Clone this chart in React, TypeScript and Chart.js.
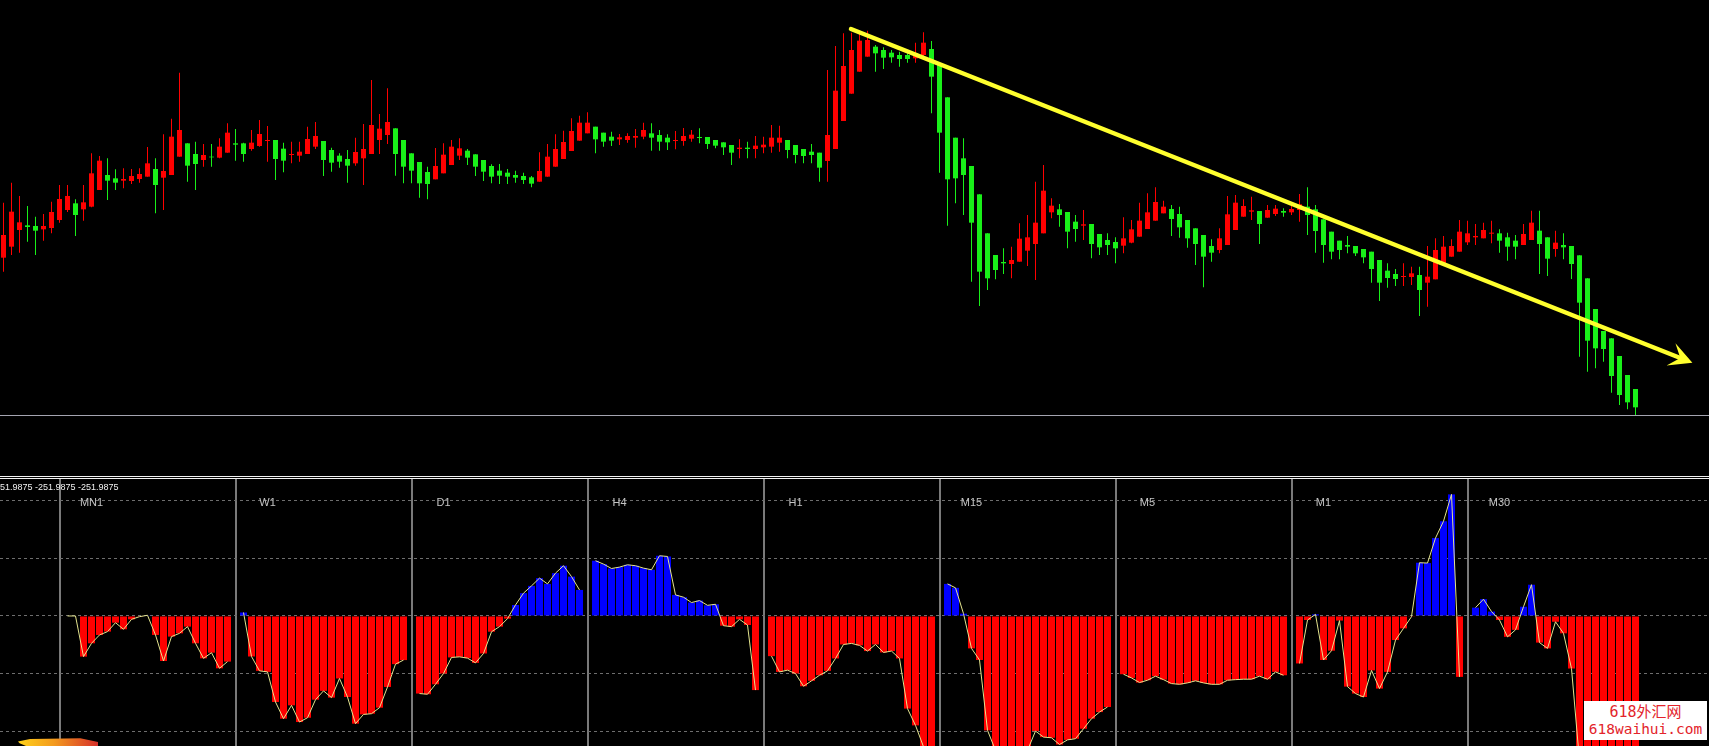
import { useEffect, useRef } from 'react';
import { Chart, registerables } from 'chart.js';

Chart.register(...registerables);

// ---------------- price panel data (points) ----------------
const OPEN = [
  472, 505, 555, 569, 567, 557, 561, 585, 615, 635,
  617, 625, 675, 720, 710, 703, 702, 708, 715, 738,
  712, 720, 775, 815, 783, 765, 775, 772, 787, 815,
  815, 798, 807, 822, 825, 799, 780, 778, 783, 805,
  822, 795, 778, 768, 755, 770, 783, 825, 840, 860,
  825, 785, 759, 729, 707, 725, 750, 778, 793, 782,
  765, 747, 733, 727, 720, 717, 713, 700, 715, 745,
  768, 792, 823, 845, 865, 847, 835, 827, 825, 832,
  835, 845, 840, 832, 822, 822, 829, 834, 834, 825,
  818, 810, 798, 802, 798, 803, 805, 817, 825, 810,
  798, 790, 787, 762, 798, 882, 964, 1030, 1075, 1105,
  1095, 1087, 1080, 1080, 1070, 1080, 1098, 1050, 953, 832,
  770, 747, 662, 545, 480, 459, 453, 460, 493, 513,
  545, 608, 617, 609, 580, 568, 573, 543, 525, 519,
  508, 517, 535, 558, 583, 605, 618, 603, 585, 560,
  540, 507, 495, 510, 555, 595, 610, 612, 592, 603,
  612, 608, 615, 625, 617, 587, 550, 523, 510, 507,
  498, 490, 465, 433, 423, 414, 414, 420, 397, 407,
  455, 475, 490, 518, 533, 530, 544, 545, 533, 523,
  510, 525, 553, 533, 498, 510, 507, 479, 410, 318,
  252, 230, 177, 120, 78,
];
const HIGH = [
  637, 697, 657, 627, 595, 603, 640, 690, 690, 647,
  690, 785, 777, 770, 737, 740, 738, 740, 804, 770,
  842, 889, 1027, 815, 820, 813, 813, 830, 875, 858,
  817, 855, 885, 867, 825, 817, 820, 820, 865, 879,
  822, 802, 785, 795, 832, 873, 1005, 903, 980, 860,
  825, 785, 759, 745, 801, 815, 825, 830, 798, 782,
  765, 752, 753, 738, 733, 727, 717, 788, 813, 842,
  853, 890, 898, 908, 865, 847, 850, 843, 845, 858,
  877, 875, 855, 842, 852, 861, 855, 860, 834, 825,
  818, 810, 827, 820, 837, 835, 870, 868, 825, 810,
  798, 813, 787, 1035, 1107, 1145, 1147, 1145, 1153, 1110,
  1103, 1095, 1090, 1085, 1117, 1148, 1122, 1050, 953, 832,
  830, 747, 662, 545, 480, 500, 505, 575, 600, 700,
  750, 650, 633, 609, 600, 615, 573, 543, 545, 533,
  593, 585, 637, 665, 683, 643, 630, 625, 585, 560,
  540, 527, 560, 657, 660, 647, 655, 612, 630, 630,
  620, 635, 663, 683, 630, 587, 550, 523, 537, 507,
  498, 490, 465, 455, 438, 455, 445, 445, 507, 530,
  537, 527, 585, 583, 573, 577, 583, 557, 547, 540,
  573, 613, 613, 533, 553, 545, 507, 479, 410, 318,
  252, 230, 177, 120, 78,
];
const LOW = [
  430, 480, 487, 520, 480, 523, 545, 577, 609, 537,
  583, 623, 675, 645, 675, 680, 693, 697, 715, 605,
  615, 720, 775, 700, 675, 745, 745, 770, 787, 763,
  760, 793, 805, 760, 705, 728, 755, 760, 783, 798,
  717, 730, 742, 697, 748, 690, 783, 783, 813, 718,
  695, 695, 652, 647, 707, 725, 750, 765, 750, 717,
  702, 695, 693, 693, 697, 693, 683, 700, 715, 745,
  768, 792, 823, 845, 785, 805, 807, 810, 817, 802,
  827, 793, 793, 795, 797, 808, 820, 815, 798, 800,
  780, 750, 770, 770, 770, 785, 787, 790, 770, 755,
  755, 755, 700, 700, 798, 882, 964, 1030, 1075, 1030,
  1038, 1057, 1045, 1057, 1057, 1075, 905, 727, 568, 635,
  600, 400, 327, 375, 407, 423, 410, 460, 447, 405,
  545, 590, 565, 500, 520, 525, 470, 480, 480, 455,
  485, 515, 535, 558, 583, 605, 537, 532, 502, 450,
  383, 460, 485, 510, 555, 595, 585, 513, 592, 597,
  595, 600, 580, 540, 487, 457, 467, 467, 485, 477,
  455, 397, 342, 382, 387, 387, 390, 297, 325, 407,
  455, 475, 490, 510, 510, 530, 515, 487, 463, 467,
  510, 525, 423, 417, 475, 467, 408, 175, 130, 140,
  160, 67, 30, 17, 0,
];
const CLOSE = [
  540, 610, 578, 564, 553, 567, 609, 648, 657, 600,
  638, 725, 763, 703, 697, 708, 717, 723, 755, 690,
  732, 835, 855, 748, 753, 780, 773, 805, 847, 811,
  783, 817, 843, 825, 768, 763, 783, 790, 828, 837,
  765, 757, 760, 748, 789, 798, 870, 859, 879, 783,
  745, 733, 695, 693, 747, 781, 805, 800, 772, 745,
  730, 715, 718, 715, 712, 705, 694, 732, 775, 798,
  819, 852, 877, 877, 827, 820, 823, 833, 837, 837,
  855, 832, 820, 818, 825, 837, 841, 831, 813, 808,
  803, 787, 802, 798, 808, 811, 832, 832, 795, 780,
  777, 780, 742, 840, 973, 1047, 1095, 1123, 1125, 1085,
  1072, 1073, 1068, 1068, 1085, 1117, 1015, 847, 707, 710,
  720, 577, 430, 410, 435, 455, 465, 529, 533, 577,
  673, 628, 600, 550, 558, 572, 513, 503, 510, 500,
  530, 557, 583, 608, 639, 625, 588, 563, 530, 513,
  475, 487, 530, 602, 637, 627, 614, 573, 615, 619,
  607, 618, 632, 600, 552, 510, 490, 495, 505, 485,
  473, 438, 397, 411, 408, 417, 425, 375, 415, 495,
  505, 507, 550, 545, 537, 555, 547, 523, 505, 505,
  543, 577, 513, 469, 517, 503, 453, 337, 223, 200,
  198, 117, 60, 38, 23,
];
const PRICE_MIN = 0;
const PRICE_MAX = 1245;

// trend line (bar index, price)
const TREND_X = [105.94, 209.6];
const TREND_Y = [1158, 171];

// ---------------- indicator panel data ----------------
const SECTION_LABELS = ['MN1', 'W1', 'D1', 'H4', 'H1', 'M15', 'M5', 'M1', 'M30'];
const MN1_VALUES = [0, 0, -35.1, -23.6, -16.4, -13.5, -5.8, -11.5, -2.9, -0.6, 0.6, -16.4, -38.9, -17.8, -15.0, -9.2, -23.6, -36.6, -31.7, -45.2, -39.4];
const W1_VALUES = [3.0, -35.0, -47.4, -48.3, -74.3, -88.7, -77.2, -91.6, -87.9, -72.3, -64.7, -70.5, -54.0, -70.0, -93.0, -85.0, -84.4, -79.2, -61.3, -41.6, -38.1];
const D1_VALUES = [-67.0, -67.6, -59.0, -49.7, -35.8, -35.3, -36.4, -40.5, -32.4, -13.6, -9.2, -2.3, 9.5, 19.7, 26.0, 32.7, 27.7, 37.0, 43.4, 34.0, 22.5];
const H4_VALUES = [47.7, 44.8, 41.0, 42.2, 44.2, 43.4, 41.3, 39.9, 52.0, 51.4, 18.2, 16.2, 11.6, 13.3, 9.2, 10.1, -8.4, -9.2, -2.9, -7.8, -64.0];
const H1_VALUES = [-34.7, -48.3, -46.8, -49.7, -60.7, -56.0, -51.2, -47.4, -36.7, -24.6, -23.7, -25.4, -30.3, -24.6, -31.5, -30.3, -36.7, -80.0, -94.5, -113.0, -119.0];
const M15_VALUES = [27.7, 24.3, 2.0, -28.0, -38.0, -98.8, -116.0, -120.0, -122.0, -119.0, -116.0, -99.4, -104.6, -105.2, -111.0, -107.0, -106.0, -97.4, -88.7, -83.0, -78.6];
const M5_VALUES = [-50.3, -53.5, -57.5, -55.5, -52.0, -55.0, -58.4, -59.0, -57.8, -56.0, -57.8, -59.0, -59.0, -55.5, -55.0, -54.6, -54.6, -52.0, -54.6, -48.3, -51.2];
const M1_VALUES = [-41.0, -3.5, 1.4, -38.0, -30.0, -4.0, -61.0, -67.0, -70.0, -47.0, -62.7, -48.3, -20.8, -10.7, -0.6, 46.0, 45.7, 67.3, 81.8, 105.0, -52.6];
const M30_VALUES = [7.2, 14.5, 3.8, -3.5, -18.0, -12.0, 8.0, 27.0, -23.0, -28.0, -5.0, -15.0, -45.4, -125.0, -135.0, -140.0, -140.0, -138.0, -135.0, -130.0, -128.0];
const SECTION_VALUES = [MN1_VALUES, W1_VALUES, D1_VALUES, H4_VALUES, H1_VALUES, M15_VALUES, M5_VALUES, M1_VALUES, M30_VALUES];
const GRID_LEVELS = [-100, -50, 0, 50, 100];
const IND_MIN = -112.3;
const IND_MAX = 118.3;
const READOUT = '-251.9875 -251.9875 -251.9875';

// slot layout shared by both panels (one slot per bar)
const FIRST_SECTION_SLOT = 7;
const SECTION_SLOTS = 22;
const X_MIN = -0.4375;
const X_MAX = X_MIN + 1709 / 8;

const UP = '#ff0000';
const DOWN = '#19f019';

export default function App() {
  const topRef = useRef<HTMLCanvasElement>(null);
  const botRef = useRef<HTMLCanvasElement>(null);

  useEffect(() => {
    document.body.style.margin = '0';
    document.body.style.background = '#000';
    document.body.style.overflow = 'hidden';

    const candleColors = OPEN.map((o, i) => (CLOSE[i] >= o ? UP : DOWN));

    const arrowPlugin = {
      id: 'arrowHead',
      afterDatasetsDraw(chart: any) {
        const meta = chart.getDatasetMeta(2);
        const a = meta.data[0];
        const b = meta.data[meta.data.length - 1];
        const dx = b.x - a.x;
        const dy = b.y - a.y;
        const len = Math.hypot(dx, dy);
        const ux = dx / len, uy = dy / len;
        const nx = -uy, ny = ux;
        const tx = b.x + ux * 13, ty = b.y + uy * 13;
        const ctx = chart.ctx;
        ctx.save();
        ctx.fillStyle = '#ffff2e';
        ctx.beginPath();
        ctx.moveTo(tx, ty);
        ctx.lineTo(tx - ux * 23 + nx * 12, ty - uy * 23 + ny * 12);
        ctx.lineTo(b.x, b.y);
        ctx.lineTo(tx - ux * 23 - nx * 12, ty - uy * 23 - ny * 12);
        ctx.closePath();
        ctx.fill();
        ctx.restore();
      },
    };

    const top = new Chart(topRef.current!, {
      type: 'bar',
      data: {
        datasets: [
          {
            type: 'bar',
            data: OPEN.map((_, i) => ({ x: i, y: [LOW[i], HIGH[i]] })) as any,
            backgroundColor: candleColors,
            barThickness: 1,
            grouped: false,
            inflateAmount: 0,
            borderWidth: 0,
            order: 3,
          } as any,
          {
            type: 'bar',
            data: OPEN.map((o, i) => ({ x: i, y: [o, CLOSE[i]] })) as any,
            backgroundColor: candleColors,
            barThickness: 5,
            grouped: false,
            inflateAmount: 0,
            borderWidth: 0,
            order: 2,
          } as any,
          {
            type: 'line',
            data: TREND_X.map((x, i) => ({ x, y: TREND_Y[i] })),
            borderColor: '#ffff2e',
            borderWidth: 4.5,
            borderCapStyle: 'round',
            pointRadius: 0,
            order: 1,
          } as any,
        ],
      },
      options: {
        responsive: false,
        animation: false,
        devicePixelRatio: 1,
        layout: { padding: 0 },
        plugins: { legend: { display: false }, tooltip: { enabled: false } },
        scales: {
          x: { type: 'linear', min: X_MIN, max: X_MAX, offset: false, display: false },
          y: { type: 'linear', min: PRICE_MIN, max: PRICE_MAX, display: false },
        },
      },
      plugins: [arrowPlugin],
    });

    const barData: any[] = [];
    const lineData: any[] = [];
    SECTION_VALUES.forEach((vals, j) => {
      const start = FIRST_SECTION_SLOT + j * SECTION_SLOTS + 1;
      vals.forEach((v, k) => {
        barData.push({ x: start + k, y: v });
        lineData.push({ x: start + k, y: v });
      });
      lineData.push({ x: start + vals.length, y: null });
    });
    const separatorSlots = SECTION_LABELS.map((_, j) => FIRST_SECTION_SLOT + j * SECTION_SLOTS);

    const labelPlugin = {
      id: 'sectionLabels',
      afterDatasetsDraw(chart: any) {
        const ctx = chart.ctx;
        const xs = chart.scales.x;
        ctx.save();
        ctx.font = '11px "Liberation Sans", Arial, sans-serif';
        ctx.fillStyle = '#c4c4c4';
        ctx.textAlign = 'center';
        ctx.textBaseline = 'middle';
        SECTION_LABELS.forEach((lab, j) => {
          const px = xs.getPixelForValue(FIRST_SECTION_SLOT + j * SECTION_SLOTS + 4);
          ctx.fillText(lab, px, chart.chartArea.top + 23.5);
        });
        ctx.restore();
      },
    };

    const bot = new Chart(botRef.current!, {
      type: 'bar',
      data: {
        datasets: [
          {
            type: 'line',
            data: lineData,
            borderColor: '#e4e48e',
            borderWidth: 1,
            pointRadius: 0,
            spanGaps: false,
            order: 1,
          } as any,
          {
            type: 'bar',
            data: barData,
            backgroundColor: barData.map((d) => (d.y >= 0 ? '#0000ff' : '#ff0000')),
            barThickness: 7,
            grouped: false,
            inflateAmount: 0,
            borderWidth: 0,
            order: 2,
          } as any,
        ],
      },
      options: {
        responsive: false,
        animation: false,
        devicePixelRatio: 1,
        layout: { padding: 0 },
        plugins: { legend: { display: false }, tooltip: { enabled: false } },
        scales: {
          x: {
            type: 'linear',
            min: X_MIN,
            max: X_MAX,
            offset: false,
            ticks: { display: false },
            grid: { color: '#7a7a7a', lineWidth: 2, drawTicks: false, offset: false },
            border: { display: false },
            afterBuildTicks: (s: any) => {
              s.ticks = separatorSlots.map((v) => ({ value: v }));
            },
            afterFit: (s: any) => {
              s.height = 0;
            },
          } as any,
          y: {
            type: 'linear',
            min: IND_MIN,
            max: IND_MAX,
            ticks: { display: false },
            grid: { color: '#6e6e6e', lineWidth: 1, drawTicks: false, offset: false },
            border: { display: false, dash: [3, 3] },
            afterBuildTicks: (s: any) => {
              s.ticks = GRID_LEVELS.map((v) => ({ value: v }));
            },
            afterFit: (s: any) => {
              s.width = 0;
            },
          } as any,
        },
      },
      plugins: [labelPlugin],
    });

    return () => {
      top.destroy();
      bot.destroy();
    };
  }, []);

  return (
    <div
      style={{
        position: 'absolute',
        left: 0,
        top: 0,
        width: 1709,
        height: 746,
        background: '#000',
        overflow: 'hidden',
      }}
    >
      <canvas ref={topRef} width={1709} height={415} style={{ position: 'absolute', left: 0, top: 0 }} />
      <div style={{ position: 'absolute', left: 0, top: 415, width: 1709, height: 1, background: '#a4a4b0' }} />
      <div style={{ position: 'absolute', left: 0, top: 476, width: 1709, height: 1, background: '#f2f2f2' }} />
      <div style={{ position: 'absolute', left: 0, top: 478, width: 1709, height: 1, background: '#f2f2f2' }} />
      <canvas ref={botRef} width={1709} height={267} style={{ position: 'absolute', left: 0, top: 479 }} />
      <div
        style={{
          position: 'absolute',
          left: -8,
          top: 482,
          font: '9px "Liberation Sans", Arial, sans-serif',
          lineHeight: '10px',
          color: '#f0f0f0',
          whiteSpace: 'nowrap',
        }}
      >
        {READOUT}
      </div>
      <div
        style={{
          position: 'absolute',
          left: 18,
          top: 738,
          width: 80,
          height: 8,
          background: 'linear-gradient(90deg, #ffd21a 0%, #f39a1e 45%, #d6302a 100%)',
          clipPath: 'polygon(0% 45%, 15% 12%, 78% 4%, 100% 50%, 100% 100%, 10% 100%, 2% 65%)',
        }}
      />
      <div
        style={{
          position: 'absolute',
          left: 1584,
          top: 701,
          width: 123,
          height: 39,
          background: '#ffffff',
          color: '#e3242b',
          textAlign: 'center',
          fontFamily: '"DejaVu Sans Mono", "Noto Sans CJK SC", monospace',
        }}
      >
        <div style={{ fontSize: 15, lineHeight: '18px', marginTop: 2 }}>618外汇网</div>
        <div style={{ fontSize: 14.5, lineHeight: '17px' }}>618waihui.com</div>
      </div>
    </div>
  );
}
